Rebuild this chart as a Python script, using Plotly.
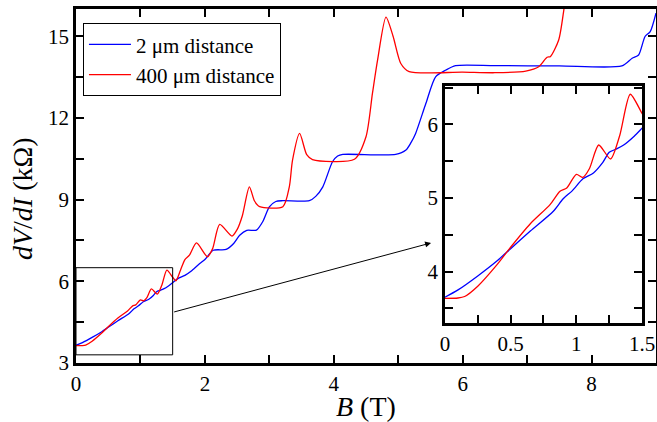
import plotly.graph_objects as go

# Blue: 2 um distance
b_blue = [0.00, 0.10, 0.25, 0.40, 0.50, 0.65, 0.825, 0.90, 0.97, 1.05, 1.13, 1.20, 1.25, 1.31, 1.36, 1.44,
          1.50, 1.58, 1.69, 1.80, 1.92, 2.00, 2.13, 2.33, 2.45, 2.54, 2.65, 2.80, 2.90, 3.00, 3.10, 3.21,
          3.62, 3.72, 3.83, 3.98, 4.06, 4.14, 4.96, 5.12, 5.20, 5.27, 5.43, 5.58, 5.74, 5.89, 6.50, 7.50,
          8.47, 8.63, 8.73, 8.83, 8.91, 9.00]
r_blue = [3.65, 3.75, 3.94, 4.15, 4.31, 4.55, 4.82, 4.99, 5.10, 5.26, 5.34, 5.48, 5.62, 5.67, 5.72, 5.84,
          5.95, 6.10, 6.22, 6.40, 6.65, 6.80, 7.14, 7.17, 7.40, 7.69, 7.87, 7.88, 8.20, 8.73, 8.93, 8.96,
          8.96, 9.12, 9.47, 10.39, 10.60, 10.66, 10.66, 10.82, 11.10, 11.43, 12.54, 13.51, 13.76, 13.92, 13.92, 13.91,
          13.91, 14.19, 14.31, 14.99, 15.17, 15.85]

# Red: 400 um distance
b_red = [0.00, 0.10, 0.15, 0.25, 0.40, 0.50, 0.65, 0.80, 0.876, 0.927, 1.00, 1.05, 1.10, 1.17, 1.26, 1.33,
         1.41, 1.50, 1.55, 1.62, 1.69, 1.76, 1.87, 2.04, 2.12, 2.23, 2.42, 2.50, 2.58, 2.69, 2.77, 2.85,
         3.21, 3.31, 3.36, 3.47, 3.58, 3.67, 4.32, 4.50, 4.60, 4.68, 4.81, 4.92, 5.04, 5.17, 6.00, 6.50,
         6.98, 7.18, 7.31, 7.36, 7.49, 7.57, 7.65]
r_red = [3.635, 3.64, 3.66, 3.80, 4.10, 4.33, 4.65, 4.91, 5.09, 5.135, 5.32, 5.28, 5.40, 5.72, 5.53, 5.85,
         6.41, 6.15, 6.02, 6.40, 6.80, 6.96, 7.41, 6.90, 7.20, 8.09, 7.66, 7.90, 8.40, 9.47, 8.95, 8.74,
         8.74, 9.47, 10.45, 11.43, 10.65, 10.47, 10.48, 11.31, 12.90, 14.13, 15.70, 15.00, 14.00, 13.70, 13.68, 13.66,
         13.72, 13.88, 14.23, 14.25, 14.86, 15.97, 17.50]

names = ["2 μm distance", "400 μm distance"]
FONT = "Liberation Serif, Times New Roman, serif"

fig = go.Figure()
for xs, ys, col, nm in [(b_blue, r_blue, "#0000ff", names[0]), (b_red, r_red, "#ff0000", names[1])]:
    fig.add_trace(go.Scatter(x=xs, y=ys, mode="lines", name=nm,
                             line=dict(color=col, width=1.3, shape="spline", smoothing=0.7),
                             xaxis="x", yaxis="y"))
for xs, ys, col, nm in [(b_blue, r_blue, "#0000ff", names[0]), (b_red, r_red, "#ff0000", names[1])]:
    fig.add_trace(go.Scatter(x=xs, y=ys, mode="lines", name=nm, showlegend=False,
                             line=dict(color=col, width=1.3, shape="spline", smoothing=0.7),
                             xaxis="x2", yaxis="y2"))

ax_common = dict(showgrid=False, zeroline=False, showline=True, linecolor="black", linewidth=2.5,
                 ticks="inside", ticklen=8, tickwidth=1.5, tickcolor="black", mirror="allticks",
                 automargin=False,
                 tickfont=dict(family=FONT, size=21, color="black"))

def minor(dt, t0=None):
    d = dict(dtick=dt, ticks="inside", ticklen=8, tickwidth=1.5, tickcolor="black", showgrid=False)
    if t0 is not None:
        d["tick0"] = t0
    return d

fig.update_layout(
    width=657, height=422,
    margin=dict(l=76, r=1, t=9, b=59),
    paper_bgcolor="white", plot_bgcolor="white",
    font=dict(family=FONT, color="black"),
    xaxis=dict(range=[0, 9], dtick=2, tick0=0, domain=[0, 1], minor=minor(1), **ax_common),
    yaxis=dict(range=[3, 16], dtick=3, tick0=3, domain=[0, 1], minor=minor(1.5), **ax_common),
    xaxis2=dict(range=[0, 1.5], dtick=0.5, tick0=0, domain=[0.636, 0.976], anchor="y2",
                minor=minor(0.25), **ax_common),
    yaxis2=dict(range=[3.3, 6.52], dtick=1, tick0=4, domain=[0.113, 0.782], anchor="x2",
                minor=minor(0.5, 3.5), **ax_common),
    legend=dict(x=0.012, y=0.96, xanchor="left", yanchor="top", bgcolor="white",
                bordercolor="black", borderwidth=1, font=dict(family=FONT, size=21),
                tracegroupgap=0, itemwidth=42),
    showlegend=True,
)

# axis titles
fig.add_annotation(text="<i>B</i> (T)", xref="paper", yref="paper", x=0.5, y=-0.123,
                   xanchor="center", yanchor="middle", showarrow=False,
                   font=dict(family=FONT, size=28, color="black"))
fig.add_annotation(text="<i>dV</i>/<i>dI</i> (kΩ)", xref="paper", yref="paper", x=-0.092, y=0.465,
                   xanchor="center", yanchor="middle", showarrow=False, textangle=-90,
                   font=dict(family=FONT, size=28, color="black"))

# white background behind inset
fig.add_shape(type="rect", xref="paper", yref="paper", x0=0.636, x1=0.976, y0=0.113, y1=0.782,
              fillcolor="white", line=dict(width=0), layer="below")
# zoom rectangle in main plot
fig.add_shape(type="rect", xref="x", yref="y", x0=0, x1=1.5, y0=3.3, y1=6.5,
              line=dict(color="black", width=1))
# arrow to inset
fig.add_annotation(x=5.51, y=7.41, ax=1.5, ay=4.86, xref="x", yref="y", axref="x", ayref="y",
                   text="", showarrow=True, arrowhead=2, arrowsize=1.2, arrowwidth=1, arrowcolor="black")

fig.write_html("out.html", config={"displayModeBar": False},
               post_script="document.body.style.margin='0';document.body.style.padding='0';")
